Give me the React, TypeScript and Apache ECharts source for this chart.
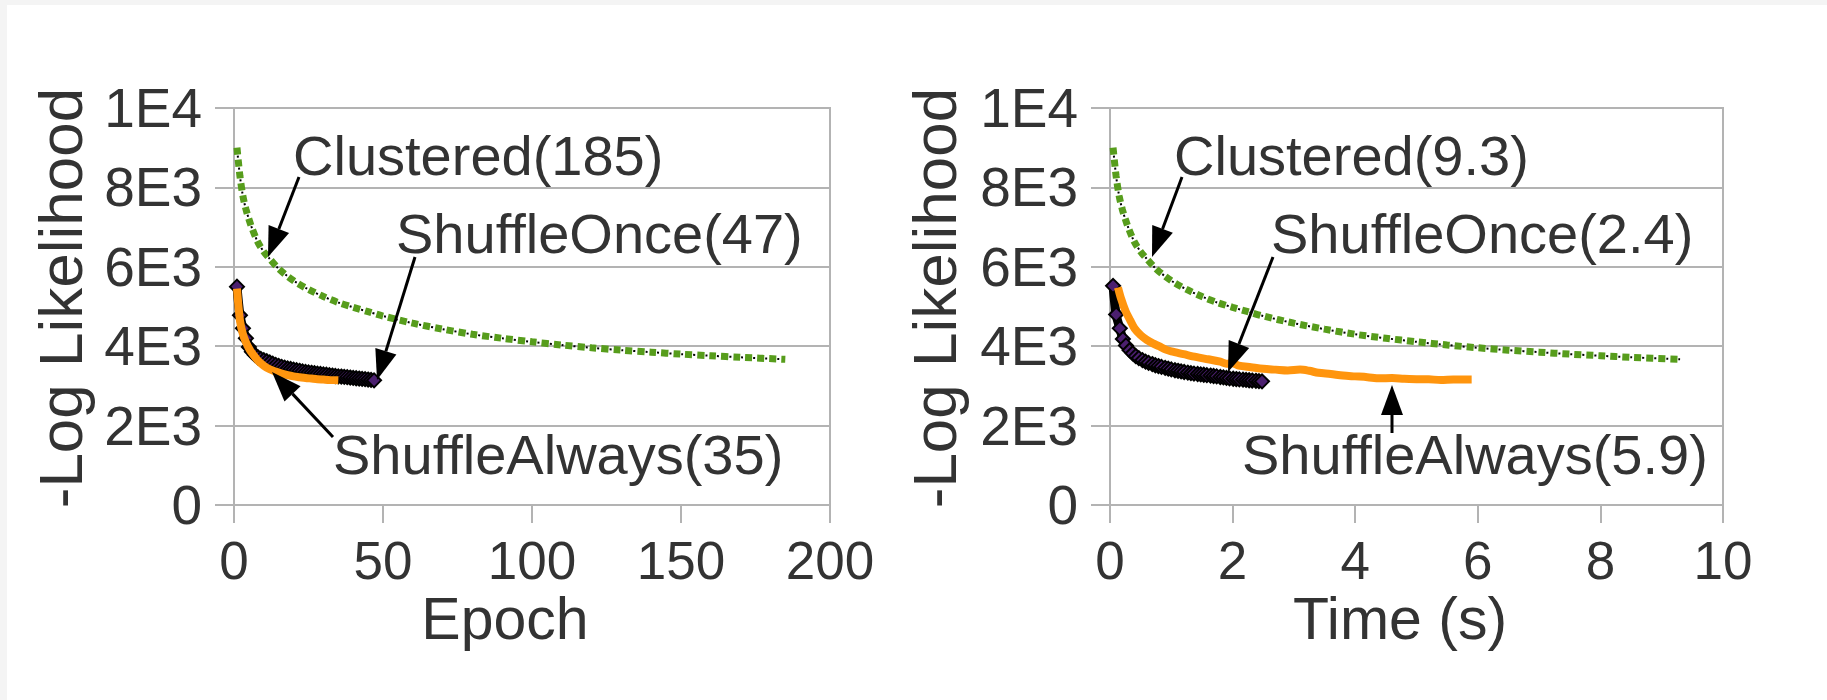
import React, { useEffect, useRef } from "react";
import * as echarts from "echarts";

// ---------- data ----------
const yTickLabels = ["0", "2E3", "4E3", "6E3", "8E3", "1E4"];

// Left panel: x = epoch
const clusteredEpoch = [1, 2, 3, 4, 5, 6, 8, 10, 12, 15, 18, 21, 25, 30, 35, 40, 45, 50, 60, 70, 80, 90, 100, 110, 120, 130, 140, 150, 160, 170, 185];
const clusteredEpochLL = [9000, 8280, 7780, 7450, 7200, 6980, 6620, 6380, 6200, 5950, 5760, 5600, 5430, 5250, 5100, 4980, 4870, 4760, 4580, 4430, 4300, 4200, 4110, 4030, 3960, 3900, 3850, 3800, 3760, 3720, 3670];

const onceEpoch = [1, 2, 3, 4, 5, 6, 7, 8, 9, 10, 11, 12, 13, 14, 15, 16, 17, 18, 19, 20, 21, 22, 23, 24, 25, 26, 27, 28, 29, 30, 31, 32, 33, 34, 35, 36, 37, 38, 39, 40, 41, 42, 43, 44, 45, 46, 47];
const onceEpochLL = [5500, 4780, 4450, 4200, 3980, 3860, 3780, 3720, 3680, 3650, 3620, 3590, 3560, 3530, 3505, 3480, 3460, 3440, 3425, 3410, 3395, 3380, 3365, 3350, 3340, 3330, 3320, 3310, 3300, 3290, 3280, 3270, 3260, 3250, 3240, 3235, 3228, 3220, 3210, 3200, 3192, 3185, 3178, 3170, 3160, 3150, 3140];

const alwaysEpoch = [1, 2, 3, 4, 5, 6, 8, 10, 12, 14, 16, 18, 20, 22, 24, 26, 28, 30, 32, 35];
const alwaysEpochLL = [5450, 4650, 4300, 4100, 3950, 3830, 3640, 3510, 3420, 3360, 3310, 3270, 3240, 3220, 3200, 3185, 3170, 3160, 3150, 3140];

// Right panel: x = time (s)
const clusteredTime = [0.05, 0.1, 0.15, 0.2, 0.25, 0.3, 0.4, 0.5, 0.6, 0.75, 0.9, 1.05, 1.25, 1.5, 1.75, 2.0, 2.25, 2.5, 3.0, 3.5, 4.0, 4.5, 5.0, 5.5, 6.0, 6.5, 7.0, 7.5, 8.0, 8.5, 9.3];
const clusteredTimeLL = [9000, 8280, 7780, 7450, 7200, 6980, 6620, 6380, 6200, 5950, 5760, 5600, 5430, 5250, 5100, 4980, 4870, 4760, 4580, 4430, 4300, 4200, 4110, 4030, 3960, 3900, 3850, 3800, 3760, 3720, 3670];

const onceTime = [0.05, 0.1, 0.16, 0.21, 0.26, 0.32, 0.37, 0.42, 0.47, 0.53, 0.58, 0.63, 0.69, 0.74, 0.79, 0.84, 0.9, 0.95, 1.0, 1.06, 1.11, 1.16, 1.21, 1.27, 1.32, 1.37, 1.43, 1.48, 1.53, 1.58, 1.64, 1.69, 1.74, 1.8, 1.85, 1.9, 1.95, 2.01, 2.06, 2.11, 2.17, 2.22, 2.27, 2.32, 2.38, 2.43, 2.48];
const onceTimeLL = [5520, 4800, 4450, 4180, 4020, 3900, 3820, 3750, 3700, 3650, 3610, 3580, 3550, 3520, 3500, 3480, 3455, 3435, 3415, 3395, 3380, 3365, 3350, 3335, 3320, 3310, 3300, 3290, 3280, 3270, 3260, 3250, 3240, 3225, 3215, 3200, 3190, 3180, 3172, 3165, 3158, 3150, 3142, 3135, 3128, 3120, 3115];

const alwaysTime = [0.13, 0.18, 0.25, 0.33, 0.4, 0.5, 0.6, 0.7, 0.8, 0.9, 1.0, 1.2, 1.4, 1.6, 1.8, 1.9, 2.0, 2.1, 2.3, 2.5, 2.7, 2.9, 3.1, 3.25, 3.4, 3.6, 3.8, 4.0, 4.2, 4.4, 4.6, 4.8, 5.0, 5.2, 5.4, 5.6, 5.9];
const alwaysTimeLL = [5480, 5200, 4900, 4650, 4450, 4280, 4160, 4070, 4000, 3920, 3870, 3800, 3730, 3670, 3610, 3560, 3570, 3510, 3470, 3430, 3410, 3390, 3410, 3380, 3330, 3300, 3260, 3240, 3220, 3190, 3200, 3180, 3170, 3165, 3150, 3160, 3160];

const zip = (xs: number[], ys: number[]) => xs.map((x, i) => [x, ys[i]]);

// ---------- styles ----------
const FONT = "'Liberation Sans', Arial, sans-serif";
const TEXT = "#333333";
const GRIDC = "#b3b3b3";
const GREEN = "#579d1c";
const PURPLE = "#4b1f6f";
const ORANGE = "#ff950e";

function arrowEls(x1: number, y1: number, x2: number, y2: number) {
  const dx = x2 - x1, dy = y2 - y1;
  const L = Math.hypot(dx, dy);
  const ux = dx / L, uy = dy / L;
  const hl = 30, hw = 11;
  const bx = x2 - ux * hl, by = y2 - uy * hl;
  const px = -uy, py = ux;
  return [
    { type: "line", shape: { x1, y1, x2: bx, y2: by }, style: { stroke: "#000", lineWidth: 3 }, z: 100 },
    {
      type: "polygon",
      shape: { points: [[x2, y2], [bx + px * hw, by + py * hw], [bx - px * hw, by - py * hw]] },
      style: { fill: "#000" },
      z: 100,
    },
  ];
}

function label(text: string, x: number, y: number, size = 56, align = "left", lineHeight = 50) {
  return {
    type: "text",
    x,
    y,
    z: 100,
    style: { text, fontSize: size, lineHeight, fontFamily: FONT, fill: TEXT, align, verticalAlign: "middle" },
  };
}

function yAxisCfg(gridIndex: number) {
  return {
    gridIndex,
    type: "value",
    min: 0,
    max: 10000,
    interval: 2000,
    axisLine: { show: true, lineStyle: { color: GRIDC, width: 2 } },
    axisTick: { show: true, length: 19, lineStyle: { color: GRIDC, width: 2 } },
    splitLine: { show: true, lineStyle: { color: GRIDC, width: 2 } },
    axisLabel: {
      fontSize: 55,
      lineHeight: 44,
      fontFamily: FONT,
      color: TEXT,
      margin: 32,
      formatter: (v: number) => yTickLabels[Math.round(v / 2000)],
    },
  };
}

function xAxisCfg(gridIndex: number, max: number, interval: number) {
  return {
    gridIndex,
    type: "value",
    min: 0,
    max,
    interval,
    axisLine: { show: true, onZero: false, lineStyle: { color: GRIDC, width: 2 } },
    axisTick: { show: true, length: 18, lineStyle: { color: GRIDC, width: 2 } },
    splitLine: { show: false },
    axisLabel: { fontSize: 53, lineHeight: 38, fontFamily: FONT, color: TEXT, margin: 36 },
  };
}

function panelSeries(idx: number, cX: number[], cY: number[], oX: number[], oY: number[], aX: number[], aY: number[]) {
  return [
    {
      type: "line",
      xAxisIndex: idx,
      yAxisIndex: idx,
      data: zip(cX, cY),
      showSymbol: false,
      smooth: 0.3,
      lineStyle: { color: GREEN, width: 7, type: [7, 5] },
      z: 2,
    },
    {
      type: "line",
      xAxisIndex: idx,
      yAxisIndex: idx,
      data: zip(cX, cY),
      showSymbol: false,
      smooth: 0.3,
      lineStyle: { color: "#000", width: 2, type: [2, 10], dashOffset: 3.5 },
      z: 3,
    },
    {
      type: "line",
      xAxisIndex: idx,
      yAxisIndex: idx,
      data: zip(oX, oY),
      symbol: "diamond",
      symbolSize: 14,
      showAllSymbol: true,
      smooth: 0.3,
      itemStyle: { color: PURPLE, borderColor: "#000", borderWidth: 2 },
      lineStyle: { color: "#000", width: 9 },
      z: 4,
    },
    {
      type: "line",
      xAxisIndex: idx,
      yAxisIndex: idx,
      data: zip(aX, aY),
      showSymbol: false,
      smooth: 0.3,
      lineStyle: { color: ORANGE, width: 8 },
      z: 5,
    },
  ];
}

export default function App() {
  const ref = useRef<HTMLDivElement>(null);

  useEffect(() => {
    document.body.style.margin = "0";
    const chart = echarts.init(ref.current!, null, { renderer: "svg" });
    const graphic: any[] = [
      { type: "rect", shape: { x: 0, y: 0, width: 1827, height: 5 }, style: { fill: "#f4f4f4" }, z: 0 },
      { type: "rect", shape: { x: 0, y: 0, width: 7, height: 700 }, style: { fill: "#f4f4f4" }, z: 0 },
      // axis titles
      label("Epoch", 505, 619, 59, "center", 44),
      label("Time (s)", 1400, 619, 59, "center", 44),
      { ...label("-Log Likelihood", 60, 298, 62, "center"), rotation: Math.PI / 2 },
      { ...label("-Log Likelihood", 934, 298, 62, "center"), rotation: Math.PI / 2 },
      // annotations left
      label("Clustered(185)", 293, 155),
      label("ShuffleOnce(47)", 396, 233),
      label("ShuffleAlways(35)", 333, 454),
      // annotations right
      label("Clustered(9.3)", 1174, 155),
      label("ShuffleOnce(2.4)", 1271, 233),
      label("ShuffleAlways(5.9)", 1242, 454),
      ...arrowEls(299, 177, 268, 257),
      ...arrowEls(415, 257, 377, 380),
      ...arrowEls(333, 437, 272, 372),
      ...arrowEls(1182, 177, 1152, 257),
      ...arrowEls(1273, 257, 1228, 372),
      ...arrowEls(1392, 433, 1392, 385),
    ];

    chart.setOption({
      animation: false,
      backgroundColor: "#ffffff",
      grid: [
        { left: 234, top: 108, width: 596, height: 397, show: true, borderColor: GRIDC, borderWidth: 2, backgroundColor: "transparent" },
        { left: 1110, top: 108, width: 613, height: 397, show: true, borderColor: GRIDC, borderWidth: 2, backgroundColor: "transparent" },
      ],
      xAxis: [xAxisCfg(0, 200, 50), xAxisCfg(1, 10, 2)],
      yAxis: [yAxisCfg(0), yAxisCfg(1)],
      series: [
        ...panelSeries(0, clusteredEpoch, clusteredEpochLL, onceEpoch, onceEpochLL, alwaysEpoch, alwaysEpochLL),
        ...panelSeries(1, clusteredTime, clusteredTimeLL, onceTime, onceTimeLL, alwaysTime, alwaysTimeLL),
      ],
      graphic,
    });
    return () => chart.dispose();
  }, []);

  return <div ref={ref} style={{ width: 1827, height: 700 }} />;
}
